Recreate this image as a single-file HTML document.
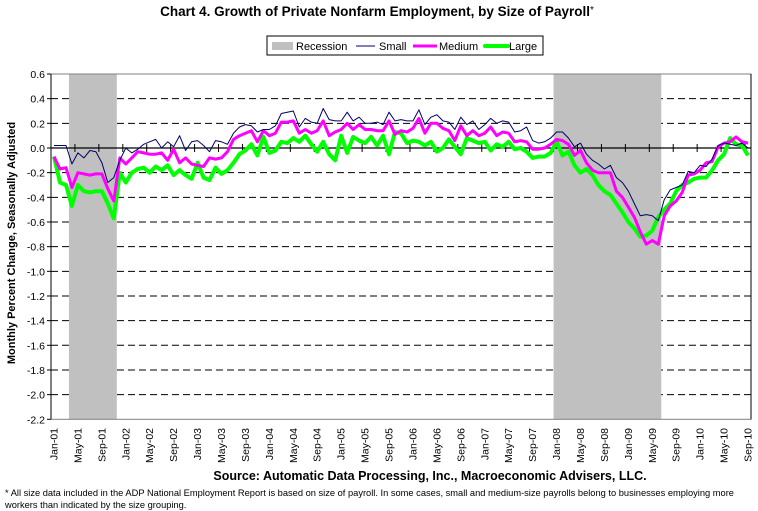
<!DOCTYPE html>
<html><head><meta charset="utf-8">
<style>
html,body{margin:0;padding:0;background:#fff;}
svg{display:block;font-family:"Liberation Sans",Arial,sans-serif;}
</style></head>
<body>
<svg id="chart" width="758" height="511" viewBox="0 0 758 511" xmlns="http://www.w3.org/2000/svg">
<text x="377" y="16" text-anchor="middle" font-size="13.5" font-weight="bold">Chart 4.  Growth of Private Nonfarm Employment, by Size of Payroll<tspan font-weight="normal" font-size="10" dy="-3">*</tspan></text>
<g>
<rect x="267" y="36" width="276" height="19" fill="#fff" stroke="#000" stroke-width="1"/>
<rect x="272" y="42" width="21" height="8" fill="#c0c0c0"/>
<text x="296" y="50" font-size="11">Recession</text>
<line x1="356" y1="46" x2="375" y2="46" stroke="#000066" stroke-width="1"/>
<text x="379" y="50" font-size="11">Small</text>
<line x1="413" y1="46" x2="437" y2="46" stroke="#ff00ff" stroke-width="3"/>
<text x="439" y="50" font-size="11">Medium</text>
<line x1="485" y1="46" x2="508" y2="46" stroke="#00ff00" stroke-width="4" stroke-linecap="round"/>
<text x="509" y="50" font-size="11">Large</text>
</g>
<text transform="translate(15,243) rotate(-90)" text-anchor="middle" font-size="11" font-weight="bold">Monthly Percent Change, Seasonally Adjusted</text>
<g id="plot"></g>
<text x="430" y="480" text-anchor="middle" font-size="12.5" font-weight="bold">Source: Automatic Data Processing, Inc., Macroeconomic Advisers, LLC.</text>
<text x="5" y="496" font-size="9.3">* All size data included in the ADP National Employment Report is based on size of payroll.  In some cases, small and medium-size payrolls belong to businesses employing more</text>
<text x="5" y="508" font-size="9.3">workers than indicated by the size grouping.</text>
</svg>
<script>
const small = [0.02,0.02,0.02,-0.13,-0.04,-0.08,-0.02,-0.03,-0.12,-0.28,-0.24,-0.10,
0.0,-0.04,-0.01,0.03,0.05,0.07,0.0,0.05,0.01,0.10,-0.02,0.05,
0.06,0.02,-0.03,0.06,0.05,0.03,0.12,0.17,0.19,0.18,0.13,0.15,
0.15,0.18,0.28,0.29,0.30,0.17,0.24,0.21,0.20,0.32,0.23,0.22,
0.22,0.29,0.22,0.25,0.20,0.20,0.21,0.19,0.29,0.22,0.23,0.22,
0.22,0.31,0.19,0.25,0.27,0.22,0.21,0.15,0.25,0.19,0.22,0.15,
0.19,0.24,0.20,0.22,0.21,0.13,0.14,0.17,0.06,0.04,0.05,0.08,
0.13,0.13,0.08,0.01,0.04,-0.05,-0.10,-0.13,-0.17,-0.14,-0.24,-0.28,
-0.35,-0.45,-0.55,-0.54,-0.55,-0.59,-0.42,-0.34,-0.32,-0.30,-0.19,-0.20,
-0.14,-0.15,-0.09,0.02,0.04,0.03,0.02,0.04,0.00];
const medium = [-0.07,-0.17,-0.16,-0.32,-0.20,-0.21,-0.22,-0.21,-0.21,-0.33,-0.43,-0.08,
-0.13,-0.08,-0.03,-0.04,-0.05,-0.05,-0.04,-0.10,-0.01,-0.12,-0.08,-0.13,
-0.14,-0.15,-0.08,-0.09,-0.08,-0.03,0.07,0.10,0.12,0.14,0.05,0.14,
0.10,0.12,0.21,0.21,0.22,0.12,0.15,0.12,0.14,0.22,0.10,0.13,
0.15,0.20,0.15,0.19,0.15,0.15,0.14,0.14,0.22,0.11,0.14,0.13,
0.16,0.24,0.12,0.20,0.20,0.16,0.14,0.06,0.18,0.10,0.14,0.10,
0.12,0.17,0.10,0.13,0.12,0.05,0.06,0.05,-0.01,-0.01,0.00,0.03,
0.07,0.06,0.03,-0.06,-0.02,-0.12,-0.18,-0.20,-0.20,-0.20,-0.35,-0.40,
-0.48,-0.56,-0.68,-0.78,-0.75,-0.78,-0.55,-0.47,-0.43,-0.36,-0.22,-0.21,
-0.18,-0.12,-0.11,0.01,0.04,0.05,0.09,0.05,0.04];
const large = [-0.07,-0.28,-0.30,-0.47,-0.30,-0.35,-0.36,-0.35,-0.35,-0.45,-0.57,-0.20,
-0.28,-0.20,-0.17,-0.16,-0.20,-0.15,-0.18,-0.14,-0.22,-0.18,-0.22,-0.25,
-0.12,-0.24,-0.26,-0.16,-0.21,-0.18,-0.12,-0.05,-0.02,0.03,-0.06,0.09,
-0.04,-0.02,0.05,0.04,0.08,0.05,0.10,0.03,-0.03,0.05,-0.05,-0.10,
0.10,-0.04,0.09,0.06,0.04,0.09,0.02,0.10,-0.05,0.13,0.12,0.04,
0.06,0.05,0.02,0.05,-0.03,0.00,0.07,0.01,-0.05,0.08,0.06,0.04,
0.05,-0.02,0.03,0.01,0.05,-0.01,0.00,-0.03,-0.08,-0.07,-0.07,-0.04,
0.05,-0.06,-0.03,-0.14,-0.20,-0.17,-0.22,-0.30,-0.35,-0.38,-0.45,-0.52,
-0.60,-0.65,-0.72,-0.71,-0.67,-0.56,-0.50,-0.45,-0.35,-0.30,-0.28,-0.25,
-0.24,-0.24,-0.18,-0.10,-0.05,0.08,0.03,0.02,-0.06];
const monthNames = ["Jan","Feb","Mar","Apr","May","Jun","Jul","Aug","Sep","Oct","Nov","Dec"];
const startYear = 2001;
const recessions = [[3,10],[84,101]];
const yTicks = [0.6,0.4,0.2,0.0,-0.2,-0.4,-0.6,-0.8,-1.0,-1.2,-1.4,-1.6,-1.8,-2.0,-2.2];

const NS="http://www.w3.org/2000/svg";
const L=51,R=751,T=74,B=419.3,yMax=0.6,yMin=-2.2;
const n=small.length;
const bw=(R-L)/n;
const xS=i=>L+(i+0.5)*bw;
const yS=v=>T+(yMax-v)/(yMax-yMin)*(B-T);
const g=document.getElementById('plot');
function mk(t,a,p){const e=document.createElementNS(NS,t);for(const k in a)e.setAttribute(k,a[k]);(p||g).appendChild(e);return e;}

yTicks.forEach(v=>{
  const y=yS(v);
  if(v!==yMax&&v!==yMin&&v!==0){
    const gl=mk('line',{x1:L,x2:R,y1:y,y2:y,stroke:'#000','stroke-width':1,'stroke-dasharray':'7,4'});
    
    
  }
  mk('line',{x1:L-4,x2:L,y1:y,y2:y,stroke:'#000'});
  const t=mk('text',{x:L-6,y:y+4,'text-anchor':'end','font-size':10.5});
  t.textContent=v.toFixed(1);
  
  
});
recessions.forEach((r,k)=>{
  const e=mk('rect',{x:L+r[0]*bw,y:T,width:(r[1]-r[0]+1)*bw,height:B-T,fill:'#c0c0c0'});
  
  
});
const fr=mk('rect',{x:L,y:T,width:R-L,height:B-T,fill:'none',stroke:'#808080','stroke-width':1});


mk('line',{x1:L,x2:L,y1:T,y2:B,stroke:'#000'});
mk('line',{x1:R,x2:R,y1:T,y2:B,stroke:'#000'});
const z=yS(0);
const za=mk('line',{x1:L,x2:R,y1:z,y2:z,stroke:'#000','stroke-width':1.2});


for(let i=0;i<=n;i+=4){mk('line',{x1:L+i*bw,x2:L+i*bw,y1:z-4,y2:z+4,stroke:'#000'});}
for(let i=0;i<n;i+=4){
  const yr=startYear+Math.floor(i/12);
  const lab=monthNames[i%12]+'-'+String(yr%100).padStart(2,'0');
  const x=xS(i)+3.5;
  const t=mk('text',{transform:`translate(${x},428) rotate(-90)`,'text-anchor':'end','font-size':10.5});
  t.textContent=lab;
  
  
}
function series(arr,col,w,name){
  const d=arr.map((v,i)=>(i?'L':'M')+xS(i).toFixed(1)+','+yS(v).toFixed(1)).join('');
  const p=mk('path',{d:d,fill:'none',stroke:col,'stroke-width':w,'stroke-linejoin':'round'});
  
  
}
series(large,'#00ff00',4,'large-series-line');
series(medium,'#ff00ff',3,'medium-series-line');
series(small,'#000066',1,'small-series-line');
</script>
</body></html>
